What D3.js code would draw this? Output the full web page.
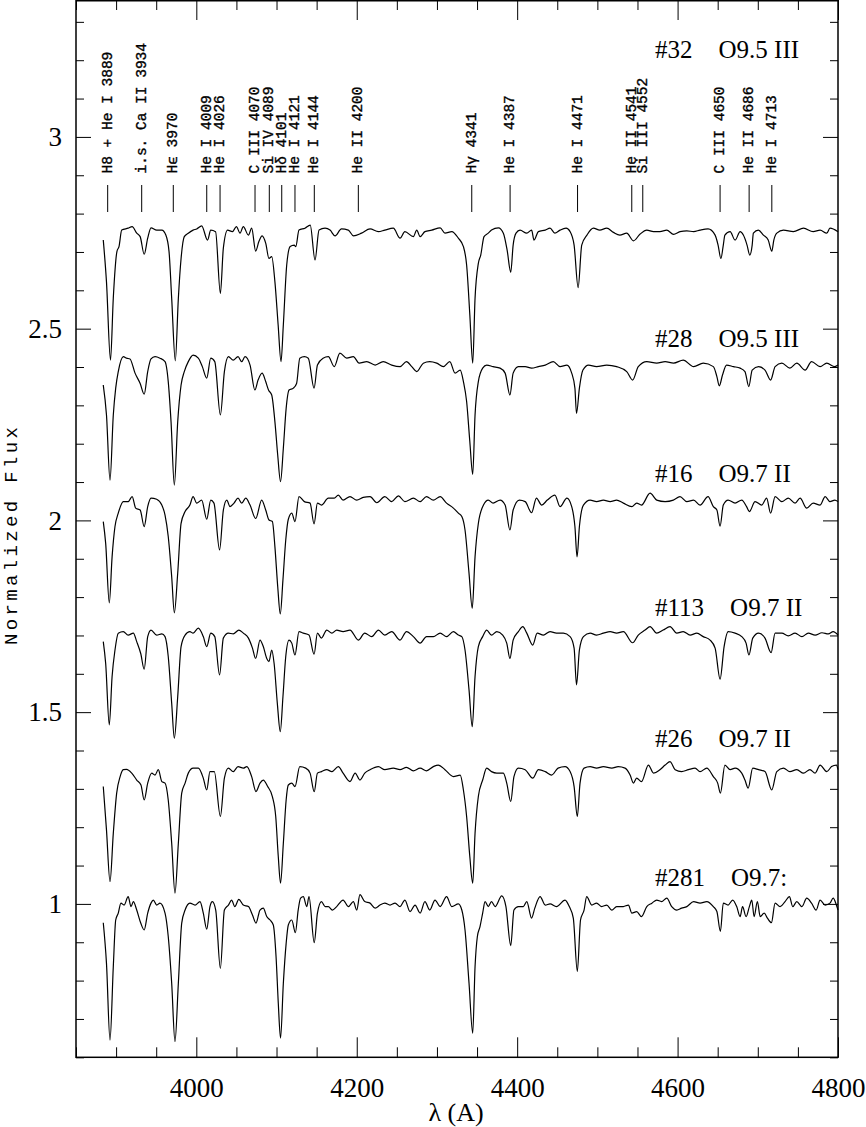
<!DOCTYPE html>
<html><head><meta charset="utf-8">
<script src="https://cdn.jsdelivr.net/npm/d3@7"></script>
<style>body{margin:0;background:#fff} svg{display:block}</style>
</head><body><svg id="c" width="866" height="1127"></svg>
<script>
// ---------- data ----------
const s32 = [[3884,2.731],[3888,2.622],[3893,2.418],[3896.5,2.58],[3901,2.701],[3903.6,2.714],[3907,2.757],[3915,2.762],[3920,2.766],[3925.7,2.749],[3930,2.74],[3935,2.694],[3939.4,2.736],[3943.5,2.763],[3950.6,2.757],[3957,2.757],[3962,2.744],[3966,2.701],[3969.3,2.579],[3973.8,2.416],[3977.6,2.579],[3981,2.683],[3985,2.74],[3990,2.749],[3996,2.757],[4000.5,2.76],[4006.7,2.768],[4014,2.731],[4018,2.757],[4024,2.753],[4030,2.592],[4033.7,2.71],[4039,2.757],[4045,2.753],[4050,2.766],[4054.5,2.749],[4058.6,2.766],[4065,2.744],[4069,2.762],[4074,2.702],[4078,2.727],[4082,2.742],[4086.5,2.723],[4090.6,2.683],[4094,2.688],[4098,2.622],[4102,2.51],[4105.6,2.414],[4108.5,2.51],[4112.7,2.666],[4117,2.714],[4122,2.718],[4124,2.714],[4128,2.757],[4135.5,2.762],[4142,2.77],[4148,2.679],[4153,2.757],[4160.5,2.762],[4166.7,2.757],[4173,2.742],[4181,2.76],[4189.5,2.757],[4196,2.742],[4206,2.749],[4216.6,2.76],[4227,2.753],[4235,2.757],[4245.6,2.762],[4254,2.736],[4260,2.753],[4270.6,2.74],[4274.8,2.757],[4279,2.74],[4285,2.753],[4293.5,2.757],[4304,2.763],[4310,2.749],[4318.5,2.753],[4326.7,2.736],[4333,2.714],[4337,2.666],[4341,2.536],[4344.6,2.41],[4347.5,2.579],[4351.6,2.67],[4354.6,2.692],[4358.7,2.74],[4364,2.749],[4368,2.757],[4376.6,2.763],[4382.8,2.749],[4387.5,2.705],[4392,2.647],[4395,2.718],[4398.6,2.749],[4403.6,2.757],[4412,2.749],[4418,2.757],[4421,2.731],[4426.5,2.753],[4435,2.757],[4441,2.762],[4447,2.749],[4453.5,2.757],[4461,2.762],[4466,2.753],[4471,2.718],[4476,2.607],[4480.5,2.718],[4487,2.744],[4495,2.762],[4503,2.757],[4511.7,2.762],[4520,2.751],[4528,2.744],[4536.6,2.749],[4545,2.729],[4553,2.746],[4561.6,2.757],[4570,2.753],[4578,2.753],[4586.5,2.757],[4595,2.746],[4603,2.753],[4611.5,2.755],[4620,2.753],[4628,2.757],[4638,2.76],[4646.8,2.744],[4650.5,2.718],[4654,2.683],[4657,2.718],[4659,2.744],[4665.5,2.753],[4671.7,2.731],[4678,2.753],[4682,2.744],[4686.6,2.718],[4690,2.692],[4693,2.718],[4694.5,2.749],[4700.7,2.757],[4707,2.744],[4713,2.731],[4717.5,2.702],[4720,2.731],[4723.7,2.749],[4732,2.757],[4744.4,2.753],[4757,2.762],[4769,2.753],[4777.7,2.757],[4786,2.749],[4790,2.762],[4800,2.753]];

const s28 = [[3884,2.353],[3888,2.275],[3892.4,2.105],[3896.5,2.275],[3899.5,2.345],[3902.7,2.388],[3909,2.427],[3913,2.423],[3917.3,2.421],[3923.6,2.384],[3930,2.357],[3935,2.329],[3939.4,2.388],[3943.5,2.421],[3948.5,2.427],[3954.7,2.423],[3961,2.414],[3965,2.362],[3968.5,2.257],[3972.6,2.092],[3976.8,2.257],[3981,2.353],[3985,2.388],[3990,2.414],[3996,2.431],[4002.5,2.423],[4007.5,2.401],[4013,2.371],[4018,2.423],[4023,2.414],[4030,2.275],[4035,2.388],[4040,2.427],[4046,2.418],[4052,2.427],[4056.6,2.414],[4060.7,2.427],[4067,2.405],[4073,2.34],[4077,2.366],[4082,2.384],[4086.5,2.362],[4090,2.34],[4094,2.327],[4098,2.257],[4101.5,2.17],[4105,2.101],[4108.5,2.188],[4112,2.292],[4115.6,2.34],[4121,2.345],[4125,2.357],[4129,2.423],[4134.7,2.427],[4139.6,2.423],[4146.8,2.345],[4151,2.405],[4158,2.423],[4164.6,2.427],[4172,2.401],[4179,2.436],[4187.5,2.423],[4195.8,2.427],[4203,2.41],[4212.5,2.414],[4223,2.405],[4233,2.414],[4243.6,2.405],[4254,2.401],[4262,2.414],[4268.6,2.401],[4274.8,2.388],[4283,2.41],[4291,2.414],[4299.7,2.41],[4308,2.401],[4316,2.414],[4322.6,2.384],[4329,2.392],[4333,2.362],[4337,2.31],[4341,2.205],[4344.6,2.12],[4347.5,2.275],[4351.6,2.362],[4357,2.397],[4362,2.405],[4370,2.401],[4378.7,2.397],[4385,2.384],[4391,2.327],[4395,2.384],[4401.5,2.401],[4410,2.401],[4418,2.397],[4426.5,2.401],[4435,2.405],[4445,2.414],[4453.5,2.401],[4462,2.405],[4468,2.384],[4472,2.345],[4474,2.279],[4477.6,2.345],[4482,2.392],[4489,2.405],[4499,2.401],[4511.7,2.405],[4524,2.401],[4536.6,2.388],[4544,2.366],[4551,2.401],[4561.6,2.414],[4574,2.41],[4584.5,2.414],[4595,2.41],[4607,2.418],[4620,2.401],[4632,2.41],[4644.6,2.401],[4649,2.375],[4652,2.351],[4656,2.379],[4661,2.405],[4669.6,2.401],[4678,2.397],[4684,2.388],[4688.8,2.349],[4693,2.392],[4701,2.401],[4709,2.392],[4716,2.366],[4721.6,2.401],[4730,2.41],[4740,2.397],[4748.6,2.41],[4759,2.392],[4767,2.414],[4777.7,2.401],[4786,2.41],[4796,2.401],[4800,2.405]];

const s16 = [[3884,1.997],[3887,1.94],[3891.5,1.785],[3895,1.905],[3898.6,1.984],[3902.7,2.019],[3909,2.049],[3915,2.049],[3920,2.062],[3924.4,2.032],[3930,2.027],[3935,1.984],[3939.4,2.036],[3943.5,2.058],[3950.6,2.055],[3957,2.04],[3961,2.014],[3965,1.958],[3969.3,1.853],[3972.6,1.759],[3976.8,1.862],[3981,1.992],[3986,2.023],[3992,2.04],[3996,2.062],[4000.5,2.045],[4006.7,2.053],[4013,2.003],[4018,2.053],[4022,2.045],[4029,1.923],[4033.7,2.027],[4038,2.053],[4042,2.036],[4047,2.045],[4052,2.058],[4056.6,2.045],[4061.6,2.058],[4067,2.04],[4074,2.005],[4081.5,2.053],[4086.5,2.027],[4090.6,2.001],[4094.8,1.997],[4098,1.931],[4101.5,1.827],[4104.7,1.756],[4108,1.845],[4111.5,1.949],[4114.7,2.003],[4119,2.019],[4123,1.997],[4128,2.062],[4134.7,2.049],[4141.8,2.045],[4146.8,1.991],[4151,2.045],[4156,2.04],[4164.6,2.058],[4172,2.058],[4177,2.066],[4183,2.053],[4191.6,2.062],[4200,2.053],[4208,2.06],[4216.6,2.062],[4225,2.046],[4235,2.062],[4243.6,2.049],[4252,2.064],[4260,2.049],[4270.6,2.058],[4279,2.049],[4287,2.062],[4295.5,2.053],[4304,2.062],[4312,2.045],[4320.5,2.032],[4326.7,2.019],[4331,2.01],[4335,1.975],[4340,1.862],[4344,1.771],[4347.5,1.905],[4351.6,1.992],[4358,2.04],[4364,2.053],[4370,2.045],[4378.7,2.053],[4385,2.04],[4391,1.975],[4395,2.027],[4402.7,2.053],[4410,2.049],[4418,2.02],[4424,2.058],[4430.6,2.04],[4437.6,2.053],[4447,2.066],[4453.5,2.036],[4462,2.058],[4468,2.036],[4472,1.984],[4474.7,1.905],[4477.6,1.984],[4482.6,2.04],[4491,2.053],[4499,2.049],[4507.5,2.053],[4516,2.049],[4524,2.053],[4532.4,2.045],[4543,2.036],[4549,2.045],[4555,2.04],[4565.7,2.071],[4574,2.053],[4584.5,2.049],[4594.7,2.053],[4603,2.062],[4611.5,2.049],[4620,2.053],[4628,2.04],[4638,2.062],[4644.6,2.036],[4649,2.027],[4653,1.985],[4657,2.04],[4663,2.053],[4671.7,2.045],[4680,2.053],[4686,2.036],[4689.5,2.023],[4696.6,2.049],[4705,2.04],[4711,2.058],[4716,2.019],[4721.6,2.062],[4730,2.049],[4738,2.058],[4746.5,2.045],[4752.7,2.058],[4761,2.032],[4769,2.045],[4777.7,2.04],[4784,2.062],[4790,2.049],[4796,2.053],[4800,2.049]];

const s113 = [[3884,1.684],[3887,1.627],[3891.5,1.467],[3895,1.593],[3898.6,1.662],[3902.7,1.706],[3909,1.71],[3915,1.701],[3921.5,1.706],[3925.7,1.684],[3930.7,1.653],[3935,1.612],[3939.4,1.697],[3943.5,1.714],[3950.6,1.701],[3957,1.704],[3961,1.697],[3965,1.645],[3969.3,1.523],[3972.6,1.432],[3976.8,1.54],[3981,1.671],[3986,1.701],[3992,1.71],[3996,1.706],[4002.5,1.719],[4008.7,1.697],[4013,1.671],[4018,1.706],[4023,1.697],[4029,1.597],[4033.7,1.693],[4040,1.706],[4046,1.704],[4053,1.714],[4058.6,1.706],[4065,1.693],[4070,1.667],[4074,1.64],[4079.4,1.688],[4083.5,1.671],[4087.8,1.64],[4090.6,1.632],[4094,1.662],[4097,1.627],[4101,1.523],[4104.7,1.449],[4108,1.54],[4111.5,1.645],[4115.6,1.688],[4119,1.68],[4123,1.649],[4128,1.71],[4133.4,1.706],[4140.5,1.701],[4146.8,1.651],[4151,1.706],[4156,1.693],[4162.6,1.714],[4169,1.706],[4175,1.714],[4183,1.71],[4191.6,1.714],[4202,1.688],[4210,1.706],[4218.7,1.697],[4227,1.714],[4235,1.701],[4243.6,1.71],[4254,1.688],[4262,1.71],[4270.6,1.697],[4279,1.68],[4287,1.697],[4295.5,1.697],[4304,1.706],[4312,1.697],[4320.5,1.71],[4326.7,1.701],[4331,1.697],[4335,1.662],[4340,1.558],[4344,1.462],[4347.5,1.593],[4351.6,1.671],[4357,1.697],[4362,1.714],[4368,1.701],[4374.6,1.71],[4382,1.701],[4387,1.68],[4391,1.64],[4395,1.688],[4401.5,1.71],[4407,1.723],[4412,1.706],[4419.4,1.675],[4425,1.706],[4432.7,1.701],[4441,1.71],[4449,1.706],[4457.6,1.706],[4466,1.697],[4471,1.667],[4474,1.571],[4477.6,1.662],[4482.6,1.697],[4491,1.706],[4499,1.701],[4507.5,1.706],[4516,1.71],[4524,1.706],[4532.4,1.71],[4544,1.681],[4551,1.701],[4559.5,1.714],[4565.7,1.723],[4574,1.706],[4582,1.714],[4590.6,1.723],[4599,1.706],[4607,1.71],[4615.6,1.701],[4624,1.706],[4632,1.697],[4640.5,1.688],[4646.8,1.667],[4653,1.586],[4658,1.671],[4663,1.71],[4671.7,1.706],[4680,1.697],[4685.4,1.68],[4689,1.649],[4693.7,1.693],[4701,1.706],[4709,1.693],[4716.6,1.655],[4721.6,1.706],[4730,1.706],[4738,1.699],[4746.5,1.706],[4755,1.697],[4763,1.706],[4771.5,1.701],[4780,1.707],[4788,1.704],[4794,1.71],[4800,1.701]];

const s26 = [[3884,1.306],[3888,1.193],[3892.4,1.058],[3896.5,1.184],[3900.7,1.289],[3905,1.332],[3909,1.35],[3913,1.351],[3919.5,1.341],[3925.7,1.323],[3931,1.31],[3935,1.271],[3939.4,1.315],[3944.4,1.341],[3948.5,1.336],[3952.6,1.35],[3957,1.319],[3961,1.315],[3965,1.271],[3969.3,1.158],[3973.4,1.028],[3977.6,1.158],[3981.8,1.289],[3986,1.315],[3990,1.341],[3996,1.354],[4002.5,1.354],[4008.7,1.328],[4013,1.297],[4017,1.345],[4022.4,1.345],[4030,1.228],[4035,1.328],[4040,1.354],[4046,1.345],[4052,1.358],[4058.6,1.354],[4063,1.358],[4069,1.332],[4074.4,1.293],[4079.4,1.315],[4083.5,1.323],[4089,1.306],[4094.8,1.28],[4099,1.228],[4102.2,1.123],[4105,1.054],[4108.5,1.158],[4112,1.271],[4114.7,1.31],[4119,1.315],[4123,1.306],[4129,1.358],[4136.4,1.354],[4141.8,1.341],[4147,1.293],[4151,1.341],[4156,1.345],[4162.6,1.35],[4169,1.345],[4177,1.358],[4183,1.341],[4191.6,1.319],[4198,1.341],[4204,1.323],[4210,1.341],[4216.6,1.35],[4227,1.358],[4235,1.35],[4245.6,1.354],[4254,1.35],[4262,1.356],[4270.6,1.347],[4279,1.354],[4287,1.347],[4295.5,1.358],[4301.7,1.362],[4310,1.35],[4320.5,1.332],[4329,1.336],[4333,1.297],[4337,1.228],[4341,1.123],[4344.6,1.054],[4347.5,1.184],[4351.6,1.28],[4357,1.323],[4362,1.354],[4368,1.345],[4374.6,1.341],[4382.8,1.341],[4387,1.315],[4392,1.267],[4396,1.332],[4401.5,1.354],[4410,1.35],[4419.4,1.328],[4426.5,1.35],[4435,1.345],[4443,1.336],[4451,1.354],[4459.7,1.358],[4466,1.345],[4471,1.306],[4475,1.228],[4478.4,1.315],[4483.4,1.354],[4491,1.358],[4499,1.354],[4507.5,1.358],[4518,1.354],[4526,1.358],[4534.5,1.354],[4540.8,1.336],[4545,1.315],[4549,1.328],[4555,1.319],[4563.6,1.362],[4570,1.341],[4578,1.35],[4584.5,1.362],[4590.6,1.371],[4597,1.35],[4605,1.345],[4613.5,1.35],[4621.8,1.354],[4628,1.345],[4636.4,1.354],[4644.6,1.332],[4650,1.315],[4653.4,1.289],[4659,1.362],[4665.5,1.35],[4671.7,1.354],[4680,1.341],[4684,1.323],[4688,1.302],[4693.7,1.354],[4701,1.35],[4709,1.345],[4717.4,1.297],[4723.7,1.345],[4732,1.354],[4740,1.345],[4748.6,1.35],[4757,1.341],[4765,1.35],[4771.5,1.341],[4777.7,1.362],[4786,1.345],[4792,1.358],[4798,1.362],[4800,1.35]];

const s281 = [[3884,0.951],[3888,0.845],[3892.4,0.645],[3896.5,0.836],[3899.5,0.958],[3902.7,0.976],[3906,1.002],[3910,0.997],[3915,1.019],[3918.6,0.993],[3921.5,1.006],[3925.7,0.984],[3930.7,0.95],[3935,0.932],[3939.4,0.976],[3943.5,1.002],[3946.4,1.01],[3950.6,0.997],[3954.7,1.002],[3961,0.976],[3965,0.915],[3969.3,0.793],[3973.4,0.641],[3977.6,0.793],[3981.8,0.95],[3986,0.984],[3992,1.002],[3998.4,0.997],[4004.6,1.006],[4008.7,0.976],[4013,0.934],[4017,0.993],[4020,1.006],[4024.2,0.984],[4030,0.832],[4035,0.984],[4040,0.997],[4044,1.01],[4048,0.993],[4053,1.012],[4058.6,0.997],[4065,0.993],[4070,0.971],[4074.4,0.95],[4079.4,0.984],[4083.5,0.989],[4087.8,0.967],[4092,0.958],[4096,0.945],[4099.4,0.863],[4102.2,0.741],[4105,0.65],[4108.5,0.793],[4112,0.897],[4114.7,0.945],[4119,0.958],[4123.5,0.925],[4127,0.984],[4130,1.015],[4133.4,1.019],[4137.7,0.993],[4140.5,1.019],[4147,0.899],[4151,0.976],[4156,1.006],[4160.5,0.993],[4164.6,0.993],[4169.6,0.984],[4175,0.993],[4183,1.01],[4189.5,0.993],[4195.8,1.006],[4200,0.984],[4204,1.024],[4210,1.006],[4216.6,1.002],[4223,0.989],[4229,0.997],[4235,1.002],[4241.5,0.997],[4247.8,1.002],[4254,0.993],[4260,1.01],[4266.5,0.98],[4272.7,0.997],[4279,0.976],[4285,1.006],[4291,0.984],[4297.6,1.01],[4304,0.993],[4312,1.019],[4318.5,0.993],[4326.7,1.0],[4331,0.984],[4335,0.932],[4340,0.793],[4344.6,0.663],[4347.5,0.836],[4350.4,0.915],[4353.7,0.941],[4357,0.976],[4360,1.006],[4364,0.993],[4368,1.006],[4372.5,0.993],[4380.8,1.021],[4386,0.993],[4392,0.891],[4396,0.984],[4401.5,0.993],[4407.7,0.993],[4412,1.006],[4418,0.963],[4422,0.989],[4428.6,1.019],[4435,0.997],[4441,1.0],[4449,0.993],[4459.7,1.01],[4465,0.993],[4470,0.963],[4475,0.824],[4479,0.958],[4483.4,0.984],[4486.7,1.019],[4493,0.997],[4499,1.002],[4505.5,0.993],[4511.7,0.997],[4518,0.984],[4524,0.993],[4532.4,0.993],[4538.7,0.997],[4543,0.976],[4549,0.98],[4555,0.967],[4561.6,0.993],[4568,1.002],[4574,1.01],[4580,1.006],[4586.5,1.015],[4592.7,0.993],[4599,0.984],[4605,0.989],[4611.5,0.993],[4620,1.006],[4628,1.002],[4636.4,1.006],[4644.6,0.993],[4649,0.98],[4653.4,0.928],[4657,1.002],[4663,0.997],[4668.7,1.01],[4673.7,0.993],[4678,0.967],[4681,0.993],[4685.4,0.967],[4689.5,0.993],[4692.5,1.01],[4695.4,0.967],[4699.5,1.006],[4703,0.967],[4708,0.976],[4712,0.963],[4717,0.951],[4721.6,1.002],[4727.8,0.993],[4734,1.006],[4739.4,1.019],[4743.6,0.993],[4748.6,1.006],[4755,0.993],[4761,1.015],[4767,1.002],[4772.7,0.984],[4777.7,1.01],[4784,0.997],[4790,1.002],[4794,1.015],[4798,0.997],[4800,0.984]];

const spectra = [s32, s28, s16, s113, s26, s281];
const starNames = ["#32", "#28", "#16", "#113", "#26", "#281"];
const spTypes = ["O9.5 III", "O9.5 III", "O9.7 II", "O9.7 II", "O9.7 II", "O9.7:"];
const starLabelFlux = [3.205, 2.453, 2.101, 1.751, 1.41, 1.047];

const lineLabels = ["H8 + He I 3889","i.s. Ca II 3934","H\u03f5 3970","He I 4009","He I 4026","C III 4070","Si IV 4089","H\u03b4 4101","He I 4121","He I 4144","He II 4200","H\u03b3 4341","He I 4387","He I 4471","He II 4541","Si III 4552","C III 4650","He II 4686","He I 4713"];
const lineWaves = [3889.5,3931.9,3971.3,4013,4029.6,4073.2,4091,4106.5,4123,4147.1,4202,4343.4,4391.2,4475.3,4542.9,4556.6,4653,4689.2,4717.5];

const xMajorTicks = [4000, 4200, 4400, 4600, 4800];
const xMinorTicks = d3.range(3850, 4801, 50).filter(v => v % 200 !== 0);
const yMajorTicks = [1, 1.5, 2, 2.5, 3];
const yMinorTicks = d3.range(6, 34).map(v => v / 10).filter(v => Math.abs(v * 2 - Math.round(v * 2)) > 1e-6);
const xTitle = "\u03bb (A)";
const yTitle = "Normalized Flux";

// ---------- drawing ----------
const L = 76, R = 838, T = 0, B = 1057.3;
const x = d3.scaleLinear().domain([3850, 4800]).range([L, R]);
const y = d3.scaleLinear().domain([0.6, 3.357]).range([B, T]);
const svg = d3.select("#c");
const serif = "'Liberation Serif', 'DejaVu Serif', serif";
const mono = "'Liberation Mono', 'DejaVu Sans Mono', monospace";

function styleAxis(g) { g.select(".domain").remove(); g.selectAll(".tick line").attr("stroke", "#000").attr("stroke-width", 1); }

// bottom
svg.append("g").attr("transform", `translate(0,${B})`)
  .call(d3.axisBottom(x).tickValues(xMajorTicks).tickSize(-20).tickPadding(21).tickFormat(d3.format("d")))
  .call(styleAxis)
  .call(g => g.selectAll("text").attr("font-family", serif).attr("font-size", 27).attr("fill", "#000"));
svg.append("g").attr("transform", `translate(0,${B})`)
  .call(d3.axisBottom(x).tickValues(xMinorTicks).tickSize(-10).tickFormat("")).call(styleAxis);
// top
svg.append("g").attr("transform", `translate(0,${T})`)
  .call(d3.axisTop(x).tickValues(xMajorTicks).tickSize(-20).tickFormat("")).call(styleAxis);
svg.append("g").attr("transform", `translate(0,${T})`)
  .call(d3.axisTop(x).tickValues(xMinorTicks).tickSize(-10).tickFormat("")).call(styleAxis);
// left
svg.append("g").attr("transform", `translate(${L},0)`)
  .call(d3.axisLeft(y).tickValues(yMajorTicks).tickSize(-15).tickPadding(14).tickFormat(d => String(d)))
  .call(styleAxis)
  .call(g => g.selectAll("text").attr("font-family", serif).attr("font-size", 27).attr("fill", "#000"));
svg.append("g").attr("transform", `translate(${L},0)`)
  .call(d3.axisLeft(y).tickValues(yMinorTicks).tickSize(-8).tickFormat("")).call(styleAxis);
// right
svg.append("g").attr("transform", `translate(${R},0)`)
  .call(d3.axisRight(y).tickValues(yMajorTicks).tickSize(-15).tickFormat("")).call(styleAxis);
svg.append("g").attr("transform", `translate(${R},0)`)
  .call(d3.axisRight(y).tickValues(yMinorTicks).tickSize(-8).tickFormat("")).call(styleAxis);

// frame
svg.append("rect").attr("x", L).attr("y", T + 0.75).attr("width", R - L).attr("height", B - T - 0.75)
  .attr("fill", "none").attr("stroke", "#000").attr("stroke-width", 1.5);

// spectra
const line = d3.line().curve(d3.curveMonotoneX).x(d => x(d[0])).y(d => y(d[1]));
svg.append("g").selectAll("path").data(spectra).join("path")
  .attr("d", line).attr("fill", "none").attr("stroke", "#000").attr("stroke-width", 1.2).attr("stroke-linejoin", "round");

// line identifications
const idg = svg.append("g");
idg.selectAll("line").data(lineWaves).join("line")
  .attr("x1", d => x(d)).attr("x2", d => x(d)).attr("y1", 185).attr("y2", 212)
  .attr("stroke", "#000").attr("stroke-width", 1);
idg.selectAll("text").data(lineLabels).join("text")
  .attr("transform", (d, i) => `translate(${x(lineWaves[i]) + 4},173.5) rotate(-90)`)
  .attr("font-family", mono).attr("font-size", 14.5).attr("fill", "#000")
  .attr("stroke", "#000").attr("stroke-width", 0.35)
  .style("white-space", "pre").text(d => d);

// star labels
const sg = svg.append("g");
starNames.forEach((nm, i) => {
  const t = sg.append("text").attr("x", 655).attr("y", y(starLabelFlux[i]))
    .attr("font-family", serif).attr("font-size", 25).attr("fill", "#000").text(nm);
  const w = t.node().getComputedTextLength();
  sg.append("text").attr("x", 655 + w + 26).attr("y", y(starLabelFlux[i]))
    .attr("font-family", serif).attr("font-size", 25).attr("fill", "#000").text(spTypes[i]);
});

// axis titles
svg.append("text").attr("x", (L + R) / 2 - 1).attr("y", 1121).attr("text-anchor", "middle")
  .attr("font-family", serif).attr("font-size", 26).attr("fill", "#000").text(xTitle);
svg.append("text").attr("transform", `translate(17,536) rotate(-90)`).attr("text-anchor", "middle")
  .attr("font-family", mono).attr("font-size", 19).attr("fill", "#000")
  .attr("textLength", 218).attr("lengthAdjust", "spacing").text(yTitle);
</script></body></html>
